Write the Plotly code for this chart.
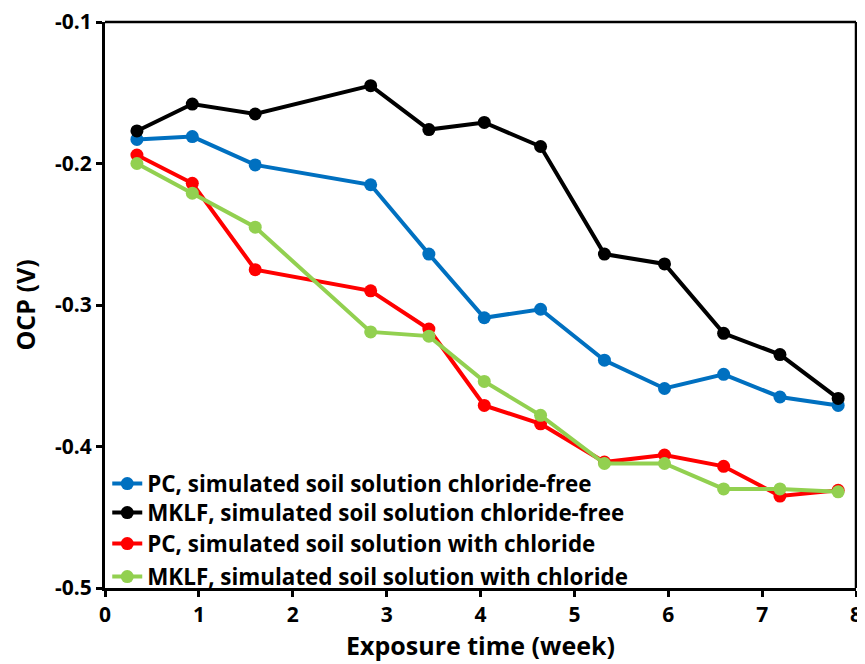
import plotly.graph_objects as go

weeks = [0.34, 0.93, 1.60, 2.83, 3.45, 4.04, 4.64, 5.32, 5.96, 6.59, 7.19, 7.81]
pc_free = [-0.183, -0.181, -0.201, -0.215, -0.264, -0.309, -0.303, -0.339, -0.359, -0.349, -0.365, -0.371]
mklf_free = [-0.177, -0.158, -0.165, -0.145, -0.176, -0.171, -0.188, -0.264, -0.271, -0.320, -0.335, -0.366]
pc_cl = [-0.194, -0.214, -0.275, -0.290, -0.317, -0.371, -0.384, -0.411, -0.406, -0.414, -0.435, -0.431]
mklf_cl = [-0.200, -0.221, -0.245, -0.319, -0.322, -0.354, -0.378, -0.412, -0.412, -0.430, -0.430, -0.432]

names = ["PC, simulated soil solution chloride-free",
         "MKLF, simulated soil solution chloride-free",
         "PC, simulated soil solution with chloride",
         "MKLF, simulated soil solution with chloride"]
colors = ["#0070C0", "#000000", "#FF0000", "#92D050"]
series = [pc_free, mklf_free, pc_cl, mklf_cl]
x_ticks = [0, 1, 2, 3, 4, 5, 6, 7, 8]
y_ticks = [-0.5, -0.4, -0.3, -0.2, -0.1]
y_labels = ["-0.5", "-0.4", "-0.3", "-0.2", "-0.1"]

FONT = "Open Sans"
legend_ids = ["legend", "legend2", "legend3", "legend4"]
legend_y = [0.1837, 0.1325, 0.0777, 0.0194]

fig = go.Figure()
for n, c, s, lid in zip(names, colors, series, legend_ids):
    fig.add_trace(go.Scatter(x=weeks, y=s, name=n, mode="lines+markers",
                             legend=lid,
                             line=dict(color=c, width=4),
                             marker=dict(color=c, size=13)))

legend_common = dict(x=0.003, xanchor="left", yanchor="middle",
                     bgcolor="rgba(0,0,0,0)", itemwidth=30,
                     font=dict(family=FONT, size=22.4, color="black", weight="bold"))

# body has an 8px default margin in the page, so the figure is offset by 8px
fig.update_layout(
    width=865, height=664,
    margin=dict(l=97, r=17, t=14, b=84, autoexpand=False),
    paper_bgcolor="white", plot_bgcolor="white",
    font=dict(family=FONT, color="black"),
    showlegend=True,
    legend=dict(y=legend_y[0], **legend_common),
    legend2=dict(y=legend_y[1], **legend_common),
    legend3=dict(y=legend_y[2], **legend_common),
    legend4=dict(y=legend_y[3], **legend_common),
)
fig.update_xaxes(range=[0, 8], tickvals=x_ticks,
                 showgrid=False, zeroline=False, automargin=False,
                 ticklabeloverflow="allow",
                 showline=True, linecolor="black", linewidth=3, mirror=False,
                 ticks="outside", ticklen=6, tickwidth=3, tickcolor="black",
                 tickfont=dict(family=FONT, size=21, weight="bold"),
                 title=dict(text="Exposure time (week)", standoff=10,
                            font=dict(family=FONT, size=25, weight="bold")))
fig.update_yaxes(range=[-0.5, -0.1], tickvals=y_ticks, ticktext=y_labels,
                 showgrid=False, zeroline=False, automargin=False,
                 ticklabeloverflow="allow",
                 showline=True, linecolor="black", linewidth=3, mirror=False,
                 ticks="outside", ticklen=6, tickwidth=3, tickcolor="black",
                 tickfont=dict(family=FONT, size=21, weight="bold"),
                 title=dict(text="OCP (V)", standoff=16,
                            font=dict(family=FONT, size=25, weight="bold")))
fig.add_shape(type="line", xref="paper", yref="paper", x0=0, x1=1, y0=1, y1=1,
              layer="above", line=dict(color="black", width=2.5))
fig.add_shape(type="line", xref="paper", yref="paper", x0=1, x1=1, y0=0, y1=1,
              layer="above", line=dict(color="black", width=2.5))
fig.write_html("out.html")
